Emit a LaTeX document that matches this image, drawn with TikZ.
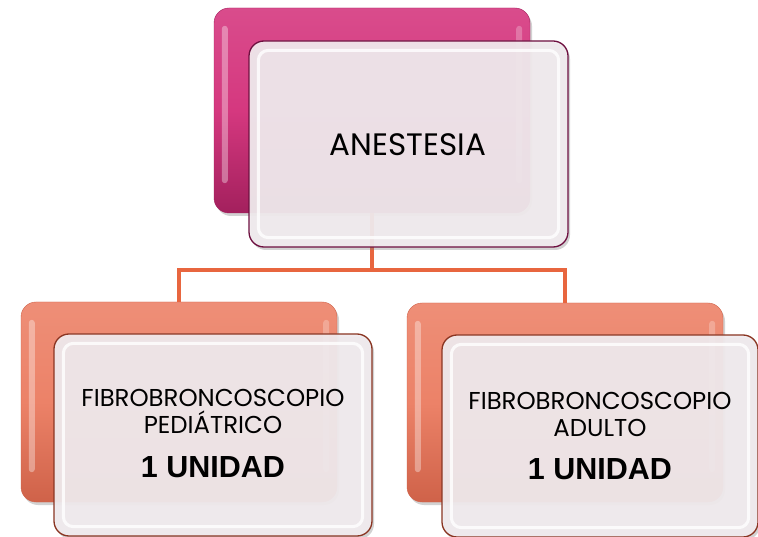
\documentclass[tikz,border=0pt]{standalone}
\usepackage{fontspec}
\setmainfont{Poppins}
\newfontfamily\boldfam{Liberation Sans}
\usetikzlibrary{shadows}
\definecolor{mag}{HTML}{D5387F}
\definecolor{magdark}{HTML}{A3205D}
\definecolor{magedge}{HTML}{6E1040}
\definecolor{org}{HTML}{EC8268}
\definecolor{orgdark}{HTML}{CF6249}
\definecolor{orgedge}{HTML}{8A3522}
\definecolor{frontfill}{HTML}{F1EBEE}
\definecolor{line}{HTML}{E8663F}
\tikzset{
  backbox/.style={rectangle, rounded corners=15pt, minimum width=316pt, minimum height=200pt, inner sep=0pt,
     drop shadow={shadow xshift=2pt, shadow yshift=-3pt, opacity=0.35}},
  frontbox/.style={rectangle, rounded corners=15pt, minimum width=318pt, minimum height=204pt, inner sep=0pt,
     fill=frontfill, fill opacity=0.93, line width=1.3pt, align=center, text opacity=1,
     drop shadow={shadow xshift=2pt, shadow yshift=-3pt, opacity=0.35}},
  conn/.style={draw=line, line width=3.2pt},
  lbl/.style={font=\fontsize{24.4}{27}\selectfont, align=center},
  unit/.style={font=\boldfam\bfseries\fontsize{30.5}{34}\selectfont},
}
\begin{document}
\begin{tikzpicture}[x=1pt,y=-1pt]
\useasboundingbox (0,0) rectangle (758,537);
\fill[white] (0,0) rectangle (758,537);
\coordinate (hy) at (0,270);
% back boxes
\node[backbox, top color=mag!90!white, bottom color=magdark, middle color=mag, draw=magdark, minimum height=205pt] (topback) at (372,110.5) {};
\node[backbox, top color=org!90!white, bottom color=orgdark, middle color=org, draw=orgdark, minimum height=200pt] (leftback) at (179,402) {};
\node[backbox, top color=org!90!white, bottom color=orgdark, middle color=org, draw=orgdark, minimum height=199pt] (rightback) at (565,402.5) {};
% connectors
\draw[conn] (topback.south) -- (topback.south |- hy) -| (leftback.north);
\draw[conn] (topback.south |- hy) -| (rightback.north);
% highlight strips on back boxes
\foreach \b in {topback,leftback,rightback}{
  \fill[white, opacity=0.35, rounded corners=3pt] ([xshift=8pt,yshift=-18pt]\b.north west) rectangle ([xshift=14pt,yshift=30pt]\b.south west);
  \fill[white, opacity=0.25, rounded corners=3pt] ([xshift=-14pt,yshift=-18pt]\b.north east) rectangle ([xshift=-8pt,yshift=30pt]\b.south east);
}
% front boxes
\node[frontbox, draw=magedge, minimum width=319pt, minimum height=206pt] (topfront) at (408.5,144) {};
\node[frontbox, draw=orgedge, minimum width=318pt, minimum height=202pt] (leftfront) at (213,435) {};
\node[frontbox, draw=orgedge, minimum width=316pt, minimum height=202pt] (rightfront) at (600,436) {};
\foreach \b in {topfront,leftfront,rightfront}{
  \draw[white, line width=3pt, opacity=0.8, rounded corners=10pt] ([xshift=10pt,yshift=-10pt]\b.north west) rectangle ([xshift=-10pt,yshift=10pt]\b.south east);
}
% texts
\node[font=\fontsize{31}{36}\selectfont] (t1) at (408,145) {ANESTESIA};
\node[lbl] (t2) at (213,411) {FIBROBRONCOSCOPIO\\PEDIÁTRICO};
\node[unit] (t3) at (213,467) {1 UNIDAD};
\node[lbl] (t4) at (600,414) {FIBROBRONCOSCOPIO\\ADULTO};
\node[unit] (t5) at (600,469) {1 UNIDAD};
\end{tikzpicture}
\end{document}
